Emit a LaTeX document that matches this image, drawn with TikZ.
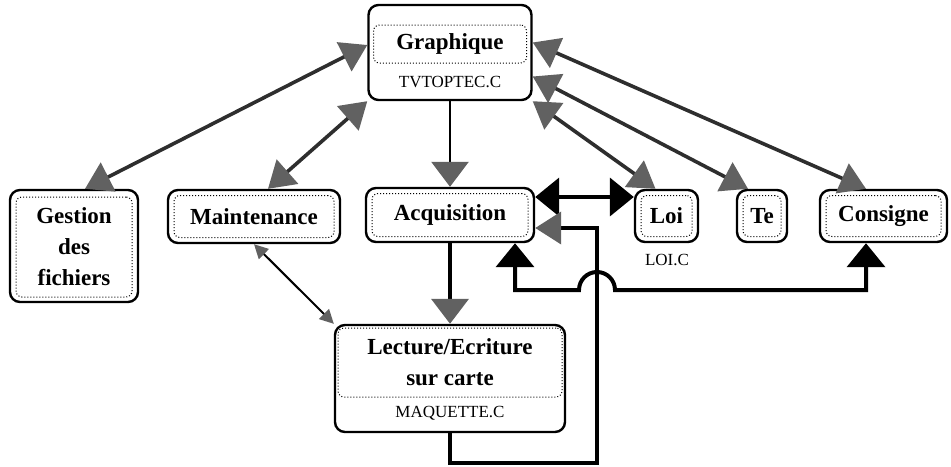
\documentclass[tikz,border=0pt]{standalone}
\usepackage{fontspec}
\setmainfont{Liberation Serif}
\usepackage{xcolor}
\colorlet{tipGray}{black!62}
\colorlet{lineGray}{black!82}
\usetikzlibrary{arrows.meta, positioning, calc}

\begin{document}
\begin{tikzpicture}[
		x=0.5pt, y=-0.5pt,
		outbox/.style={draw, rounded corners=5pt, line width=1.2pt, inner sep=0pt},
		inbox/.style={draw, densely dotted, rounded corners=3pt, line width=0.5pt, inner sep=0pt,
		              align=center, font=\fontsize{11.5}{15.5}\selectfont\bfseries},
		filelabel/.style={font=\fontsize{8.5}{10}\selectfont, inner sep=0pt},
		graytip/.tip={Triangle[length=13pt, width=16pt, color=tipGray]},
		bigtip/.tip={Triangle[length=12.5pt, width=18.5pt, color=tipGray]},
		blktip/.tip={Triangle[length=12pt, width=19pt, color=black]},
		smalltip/.tip={Triangle[length=7pt, width=7pt, color=tipGray]},
		dblgray/.style={line width=1.8pt, lineGray, graytip-graytip}
	]
	\useasboundingbox (0,0) rectangle (951,466);

	% top box
	\node[outbox, minimum width=81.5pt, minimum height=47.5pt] (graph) at (450,52.5) {};
	\node[inbox, minimum width=76.5pt, minimum height=19pt] (graphIn) at (450,44) {Graphique};
	\node[filelabel] (graphFile) at (450,82) {TVTOPTEC.C};

	% middle row
	\node[outbox, minimum width=64pt, minimum height=56pt] (gest) at (74,246) {};
	\node[inbox, minimum width=58pt, minimum height=50pt] (gestIn) at (74,247) {Gestion\\des\\fichiers};
	\node[outbox, minimum width=86pt, minimum height=26.5pt] (maint) at (254,216.5) {};
	\node[inbox, minimum width=80pt, minimum height=21pt] (maintIn) at (254,216.5) {Maintenance};
	\node[outbox, minimum width=84pt, minimum height=27pt] (acq) at (450,215) {};
	\node[inbox, minimum width=78pt, minimum height=21.5pt] (acqIn) at (450,215) {Acquisition};
	\node[outbox, minimum width=31.5pt, minimum height=26pt] (loi) at (666.5,216) {};
	\node[inbox, minimum width=25.5pt, minimum height=20.5pt] (loiIn) at (666.5,216) {Loi};
	\node[filelabel] (loiFile) at (667,260) {LOI.C};
	\node[outbox, minimum width=25pt, minimum height=26pt] (te) at (762,216) {};
	\node[inbox, minimum width=19pt, minimum height=20.5pt] (teIn) at (762,216) {Te};
	\node[outbox, minimum width=63.5pt, minimum height=26pt] (cons) at (883.5,216) {};
	\node[inbox, minimum width=57.5pt, minimum height=20.5pt] (consIn) at (883.5,216) {Consigne};

	% bottom box
	\node[outbox, minimum width=115pt, minimum height=53.5pt] (lect) at (450,378.5) {};
	\node[inbox, minimum width=112pt, minimum height=34.5pt] (lectIn) at (450,362.5) {Lecture/Ecriture\\sur carte};
	\node[filelabel] (lectFile) at (450,413) {MAQUETTE.C};

	% links to Graphique
	\draw[dblgray] ([xshift=5.5pt]gest.north) -- ([yshift=3.75pt]graph.west);
	\draw[dblgray] ([xshift=7pt]maint.north) -- (graph.south west);
	\draw[dblgray] (graph.south east) -- ([xshift=-5.5pt]loi.north);
	\draw[dblgray] ([yshift=-12pt]graph.east) -- ([xshift=-7pt]te.north);
	\draw[dblgray] ([yshift=5pt]graph.east) -- ([xshift=-8.75pt]cons.north);
	\draw[line width=1.4pt, -bigtip] (graph.south) -- (acq.north);

	% Acquisition links
	\draw[line width=2pt, -bigtip] (acq.south) -- (lect.north);
	\draw[line width=1pt, smalltip-smalltip] (maint.south) -- (lect.north west);
	\coordinate (acqHi) at ([yshift=9pt]acq.east);
	\draw[line width=2pt, blktip-blktip] (acqHi) -- (acqHi -| loi.west);
	\coordinate (acqLo) at ([yshift=-6.5pt]acq.east);
	\coordinate (loopCorner) at (597,463);
	\draw[line width=2pt, -graytip] (lect.south) |- (loopCorner) |- (acqLo);
	\coordinate (acqFoot) at ([xshift=32.5pt]acq.south);
	\coordinate (hopStart) at (579,290);
	\draw[line width=2pt, blktip-blktip] (acqFoot) |- (hopStart)
		arc[start angle=180, end angle=0, radius=9pt] -| ([xshift=-8.75pt]cons.south);
\end{tikzpicture}
\end{document}
